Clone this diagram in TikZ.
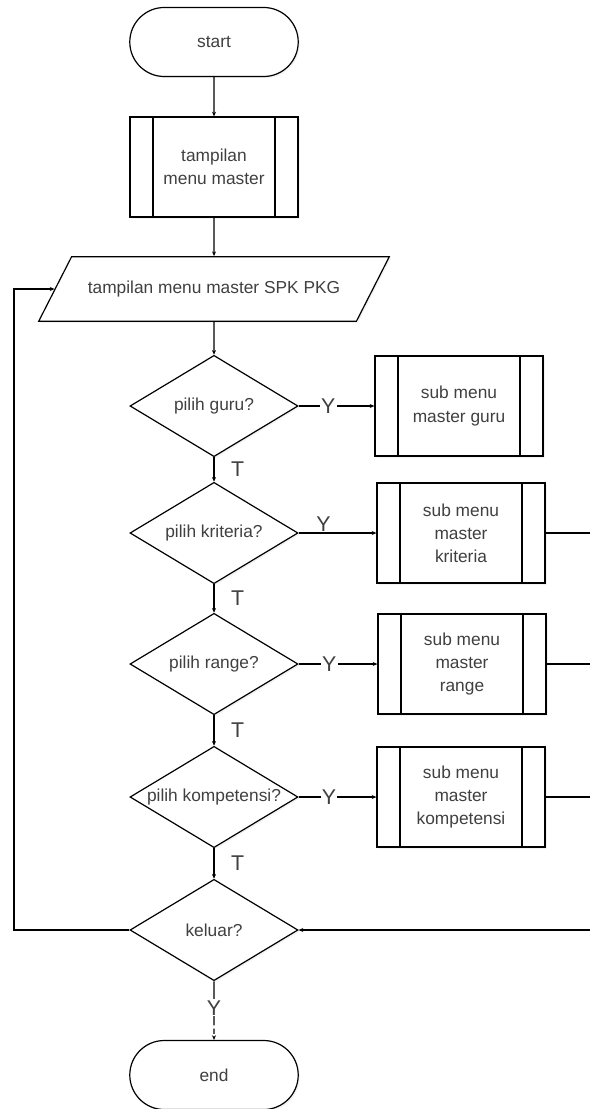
\documentclass[tikz,border=0pt]{standalone}
\usepackage{fontspec}
\setmainfont{Liberation Sans}
\usetikzlibrary{shapes.geometric, shapes.misc, arrows.meta, shadows, positioning}

\begin{document}
\begin{tikzpicture}[x=0.75pt, y=-0.75pt, line width=0.9pt,
  every node/.style={font=\fontsize{13}{17.3}\selectfont, text=black!75},
  box/.style={draw, fill=white, drop shadow={shadow xshift=1.2pt, shadow yshift=-1.2pt, fill=black!10}},
  term/.style={box, rounded rectangle, minimum width=133pt, minimum height=51.75pt},
  subproc/.style={box, rectangle, align=center, minimum width=126pt, minimum height=75pt,
    path picture={
      \draw ([xshift=17.25pt]path picture bounding box.north west) -- ([xshift=17.25pt]path picture bounding box.south west);
      \draw ([xshift=-17.25pt]path picture bounding box.north east) -- ([xshift=-17.25pt]path picture bounding box.south east);}},
  io/.style={box, trapezium, trapezium left angle=63, trapezium right angle=117, trapezium stretches body=true,
    inner ysep=18.2pt, minimum width=263pt},
  decision/.style={box, diamond, aspect=1.65, inner sep=0pt, minimum width=126pt, minimum height=76pt},
  yes/.style={font=\fontsize{16}{18}\selectfont, fill=white, inner sep=1pt},
  no/.style={font=\fontsize{16}{18}\selectfont, right=9pt},
  arr/.style={-{Stealth[length=3.5pt, width=3pt]}}]
\useasboundingbox (0,0) rectangle (589,1109);

\node[term] (start) at (214,42) {start};
\node[subproc] (menu) at (214,167) {tampilan\\menu master};
\node[io] (spk) at (214,289) {tampilan menu master SPK PKG};
\node[decision] (guru) at (214,406) {pilih guru?};
\node[decision] (kriteria) at (214,533) {pilih kriteria?};
\node[decision] (range) at (214,664) {pilih range?};
\node[decision] (kompetensi) at (214,797) {pilih kompetensi?};
\node[decision] (keluar) at (214,930) {keluar?};
\node[term] (end) at (214,1075) {end};

\node[subproc] (mguru) at (459,406) {sub menu\\master guru};
\node[subproc] (mkriteria) at (461,533) {sub menu\\master\\kriteria};
\node[subproc] (mrange) at (462,664) {sub menu\\master\\range};
\node[subproc] (mkompetensi) at (461,797) {sub menu\\master\\kompetensi};

\coordinate (loop) at (14,600);
\coordinate (rgt) at (591,930);

\draw[arr] (start) -- (menu);
\draw[arr] (menu) -- (spk);
\draw[arr] (spk) -- (guru);
\draw[arr] (guru) -- node[no]{T} (kriteria);
\draw[arr] (kriteria) -- node[no]{T} (range);
\draw[arr] (range) -- node[no]{T} (kompetensi);
\draw[arr] (kompetensi) -- node[no]{T} (keluar);
\draw[arr] (guru) -- node[yes, pos=0.39]{Y} (mguru);
\draw[arr] (kriteria) -- node[yes, pos=0.32, yshift=7pt]{Y} (mkriteria);
\draw[arr] (range) -- node[yes, pos=0.39]{Y} (mrange);
\draw[arr] (kompetensi) -- node[yes, pos=0.39]{Y} (mkompetensi);
\draw[arr, dash pattern=on 33pt off 2.5pt on 4pt off 2.5pt on 5pt] (keluar) -- node[yes, pos=0.45]{Y} (end);
\draw (mkriteria.east) -| (rgt);
\draw (mrange.east) -| (rgt);
\draw[arr] (mkompetensi.east) -| (rgt) -- (keluar.east);
\draw[arr] (keluar.west) -| (loop) |- (spk.west);
\end{tikzpicture}
\end{document}
